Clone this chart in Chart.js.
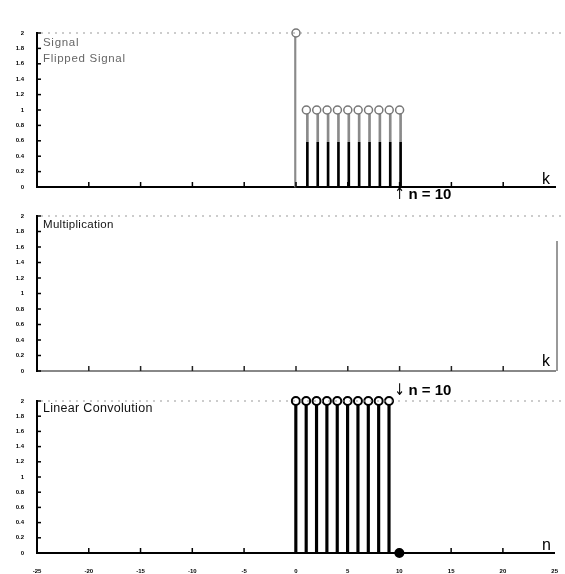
<!DOCTYPE html>
<html><head><meta charset="utf-8">
<script src="https://cdn.jsdelivr.net/npm/chart.js@4.4.0/dist/chart.umd.min.js"></script>
<style>
body{margin:0;background:#fff;width:565px;height:574px;position:relative;overflow:hidden;font-family:"Liberation Sans",Arial,sans-serif}
canvas{position:absolute;left:0}
.t{position:absolute;white-space:nowrap;line-height:1}
.ar{font-family:"DejaVu Sans",sans-serif;font-weight:normal;font-size:16px;display:inline-block;transform:scaleX(0.8);margin-right:2px}
</style></head><body>
<canvas id="c1" width="565" height="200" style="top:0px"></canvas>
<canvas id="c2" width="565" height="186" style="top:200px"></canvas>
<canvas id="c3" width="565" height="188" style="top:386px"></canvas>

<div class="t" style="left:43px;top:37px;font-size:11.5px;color:#666;letter-spacing:0.7px">Signal</div>
<div class="t" style="left:43px;top:53px;font-size:11.5px;color:#666;letter-spacing:0.7px">Flipped Signal</div>
<div class="t" style="left:393px;top:186px;font-size:15px;font-weight:bold;color:#000"><span class="ar">↑</span>n = 10</div>
<div class="t" style="left:542px;top:171px;font-size:16px;color:#000">k</div>

<div class="t" style="left:43px;top:219px;font-size:11.5px;color:#111;letter-spacing:0.3px">Multiplication</div>
<div class="t" style="left:542px;top:353px;font-size:16px;color:#000">k</div>

<div class="t" style="left:393px;top:382px;font-size:15px;font-weight:bold;color:#000"><span class="ar">↓</span>n = 10</div>
<div class="t" style="left:43px;top:402px;font-size:12.5px;color:#111;letter-spacing:0.3px">Linear Convolution</div>
<div class="t" style="left:542px;top:537px;font-size:16px;color:#000">n</div>

<script>
// ---- data ----
const xTicks = [-25, -20, -15, -10, -5, 0, 5, 10, 15, 20, 25];
const xTickLabels = ['-25', '-20', '-15', '-10', '-5', '0', '5', '10', '15', '20', '25'];
const yTicks = [0, 0.2, 0.4, 0.6, 0.8, 1, 1.2, 1.4, 1.6, 1.8, 2];
const yTickLabels = ['0', '0.2', '0.4', '0.6', '0.8', '1', '1.2', '1.4', '1.6', '1.8', '2'];

const signalK = [0];
const signalY = [2];
const flippedK = [1, 2, 3, 4, 5, 6, 7, 8, 9, 10];
const flippedY = [1, 1, 1, 1, 1, 1, 1, 1, 1, 1];

const multK = [];
const multY = [];

const convN = [0, 1, 2, 3, 4, 5, 6, 7, 8, 9, 10];
const convY = [2, 2, 2, 2, 2, 2, 2, 2, 2, 2, 0];

const pts = (xs, ys) => xs.map((x, i) => ({x: x, y: ys[i]}));

// ---- decoration plugin: inward ticks, dotted top border ----
const deco = {
  id: 'deco',
  afterDraw(chart, args, opts) {
    const {ctx, chartArea: a, scales: {x, y}} = chart;
    ctx.save();
    ctx.strokeStyle = '#000';
    ctx.lineWidth = 1.5;
    yTicks.forEach(v => {
      const p = y.getPixelForValue(v);
      ctx.beginPath(); ctx.moveTo(a.left, p); ctx.lineTo(a.left + 4, p); ctx.stroke();
    });
    ctx.strokeStyle = opts.xTickColor || '#000';
    xTicks.forEach(v => {
      if (v === xTicks[0] || v === xTicks[xTicks.length - 1]) return;
      const p = x.getPixelForValue(v);
      ctx.beginPath(); ctx.moveTo(p, a.bottom); ctx.lineTo(p, a.bottom - 5); ctx.stroke();
    });
    // dotted top edge
    ctx.strokeStyle = '#999';
    ctx.lineWidth = 1;
    ctx.setLineDash([2, 5]);
    ctx.beginPath(); ctx.moveTo(a.left + 4, a.top); ctx.lineTo(a.right + 10, a.top); ctx.stroke();
    ctx.setLineDash([]);
    if (opts.rightBorder) {
      ctx.strokeStyle = opts.rightBorder;
      ctx.lineWidth = 1.5;
      ctx.beginPath(); ctx.moveTo(a.right + 2, a.top + 25); ctx.lineTo(a.right + 2, a.bottom); ctx.stroke();
    }
    ctx.restore();
  }
};

function makeScales(showX, xh, xBorder) {
  return {
    x: {
      type: 'linear', min: -25, max: 25, offset: false,
      afterBuildTicks: s => { s.ticks = xTicks.map(v => ({value: v})); },
      ticks: {display: showX, autoSkip: false, maxRotation: 0, padding: 7,
        font: {size: 6, weight: 'bold', family: 'Liberation Sans'}, color: '#000',
        callback: (v, i) => xTickLabels[i]},
      grid: {display: false, offset: false},
      border: {color: xBorder, width: 2},
      afterFit: s => { s.height = xh; }
    },
    y: {
      min: 0, max: 2,
      afterBuildTicks: s => { s.ticks = yTicks.map(v => ({value: v})); },
      ticks: {padding: 5, font: {size: 6, weight: 'bold', family: 'Liberation Sans'}, color: '#000',
        callback: (v, i) => yTickLabels[i]},
      grid: {display: false},
      border: {color: '#000', width: 2},
      afterFit: s => { s.width = 37; }
    }
  };
}

function stemGradient(ctx) {
  const chart = ctx.chart;
  const a = chart.chartArea;
  if (!a) return '#000';
  const p = chart.scales.y.getPixelForValue(0.58);
  const f = (a.bottom - p) / (a.bottom - a.top);
  const g = chart.ctx.createLinearGradient(0, a.bottom, 0, a.top);
  g.addColorStop(0, '#000'); g.addColorStop(f, '#000');
  g.addColorStop(f, '#8a8a8a'); g.addColorStop(1, '#8a8a8a');
  return g;
}

const common = {
  responsive: false, animation: false, devicePixelRatio: 1,
  plugins: {legend: {display: false}, tooltip: {enabled: false}}
};

// ---- chart 1: signal and flipped signal ----
new Chart(document.getElementById('c1'), {
  type: 'bar',
  data: {
    datasets: [
      {type: 'bar', data: pts(signalK, signalY), backgroundColor: '#8a8a8a', barThickness: 1.5, clip: false, order: 2},
      {type: 'bar', data: pts(flippedK, flippedY), backgroundColor: stemGradient, barThickness: 2, clip: false, order: 2},
      {type: 'line', data: pts(signalK, signalY), showLine: false, pointRadius: 4, pointBorderWidth: 1.5,
        pointBorderColor: '#777', pointBackgroundColor: '#fff', clip: false, order: 1},
      {type: 'line', data: pts(flippedK, flippedY), showLine: false, pointRadius: 4, pointBorderWidth: 1.5,
        pointBorderColor: '#777', pointBackgroundColor: '#fff', clip: false, order: 1}
    ]
  },
  options: Object.assign({}, common, {
    layout: {padding: {top: 33, right: 10, left: 0, bottom: 0}},
    scales: makeScales(false, 13, '#000'),
    plugins: Object.assign({}, common.plugins, {deco: {}})
  }),
  plugins: [deco]
});

// ---- chart 2: multiplication ----
new Chart(document.getElementById('c2'), {
  type: 'bar',
  data: {
    datasets: [
      {type: 'bar', data: pts(multK, multY), backgroundColor: '#000', barThickness: 2, clip: false},
      {type: 'line', data: pts(multK, multY), showLine: false, pointRadius: 4, pointBorderColor: '#000',
        pointBackgroundColor: '#fff', clip: false}
    ]
  },
  options: Object.assign({}, common, {
    layout: {padding: {top: 16, right: 10, left: 0, bottom: 0}},
    scales: makeScales(false, 15, '#888'),
    plugins: Object.assign({}, common.plugins, {deco: {rightBorder: '#777', xTickColor: '#222'}})
  }),
  plugins: [deco]
});

// ---- chart 3: linear convolution ----
new Chart(document.getElementById('c3'), {
  type: 'bar',
  data: {
    datasets: [
      {type: 'bar', data: pts(convN, convY), backgroundColor: '#000', barThickness: 2.5, clip: false, order: 2},
      {type: 'line', data: pts(convN, convY), showLine: false, pointRadius: 4, pointBorderWidth: 2,
        pointBorderColor: '#000',
        pointBackgroundColor: c => (c.raw && c.raw.y === 0) ? '#000' : '#fff',
        clip: false, order: 1}
    ]
  },
  options: Object.assign({}, common, {
    layout: {padding: {top: 15, right: 10, left: 0, bottom: 0}},
    scales: makeScales(true, 21, '#000'),
    plugins: Object.assign({}, common.plugins, {deco: {}})
  }),
  plugins: [deco]
});
</script>
</body></html>
